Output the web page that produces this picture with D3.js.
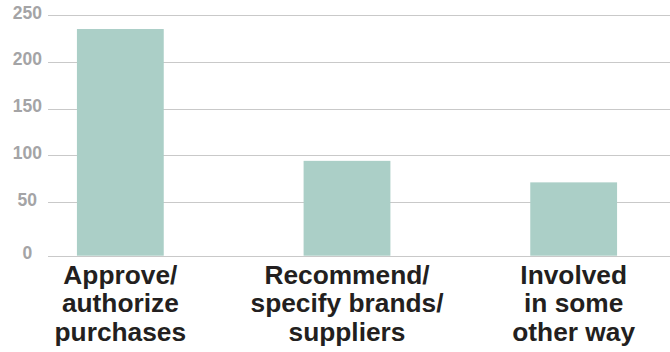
<!DOCTYPE html>
<html>
<head>
<meta charset="utf-8">
<script src="https://cdn.jsdelivr.net/npm/d3@7/dist/d3.min.js"></script>
<style>
  html, body { margin: 0; padding: 0; background: #fff; }
  svg { display: block; }
  text { font-family: "Liberation Sans", Arial, Helvetica, sans-serif; font-weight: bold; }
</style>
</head>
<body>
<svg id="chart" width="670" height="352"></svg>
<script>
// Role in the purchase decision
const categories = [
  ["Approve/", "authorize", "purchases"],
  ["Recommend/", "specify brands/", "suppliers"],
  ["Involved", "in some", "other way"]
];
const values = [235, 94, 71];
const yTicks = [0, 50, 100, 150, 200, 250];

const svg = d3.select("#chart");
const W = 670;

// baseline sits a little lower than the evenly spaced gridlines above it
const y = d3.scaleLinear()
  .domain([0, 50, 250])
  .range([255.7, 202, 15]);

const x = d3.scaleBand()
  .domain(d3.range(categories.length))
  .range([7, 687])
  .paddingInner(0.617)
  .paddingOuter(0.3085);

// gridlines
svg.append("g")
  .selectAll("line")
  .data(yTicks)
  .join("line")
  .attr("x1", 48)
  .attr("x2", W)
  .attr("y1", d => Math.round(y(d)) + 0.5)
  .attr("y2", d => Math.round(y(d)) + 0.5)
  .attr("stroke", "#c9c9c9")
  .attr("stroke-width", 1.2);

// y tick labels
svg.append("g")
  .selectAll("text")
  .data(yTicks)
  .join("text")
  .attr("x", 27.3)
  .attr("y", d => y(d) - 2.5)
  .attr("dy", "0.35em")
  .attr("text-anchor", "middle")
  .attr("font-size", 17.5)
  .attr("fill", "#a4a4a6")
  .text(d => d);

// bars
svg.append("g")
  .selectAll("rect")
  .data(values)
  .join("rect")
  .attr("x", (d, i) => x(i))
  .attr("width", x.bandwidth())
  .attr("y", d => y(d))
  .attr("height", d => y(0) - y(d))
  .attr("fill", "#abcfc7");

// category labels
const lab = svg.append("g")
  .selectAll("text")
  .data(categories)
  .join("text")
  .attr("text-anchor", "middle")
  .attr("font-size", 26.3)
  .attr("fill", "#231f20")
  .attr("transform", (d, i) => `translate(${x(i) + x.bandwidth() / 2},${y(0) + 28.5})`);

lab.selectAll("tspan")
  .data(d => d)
  .join("tspan")
  .attr("x", 0)
  .attr("y", (d, j) => j * 28.3)
  .text(d => d);
</script>
</body>
</html>
